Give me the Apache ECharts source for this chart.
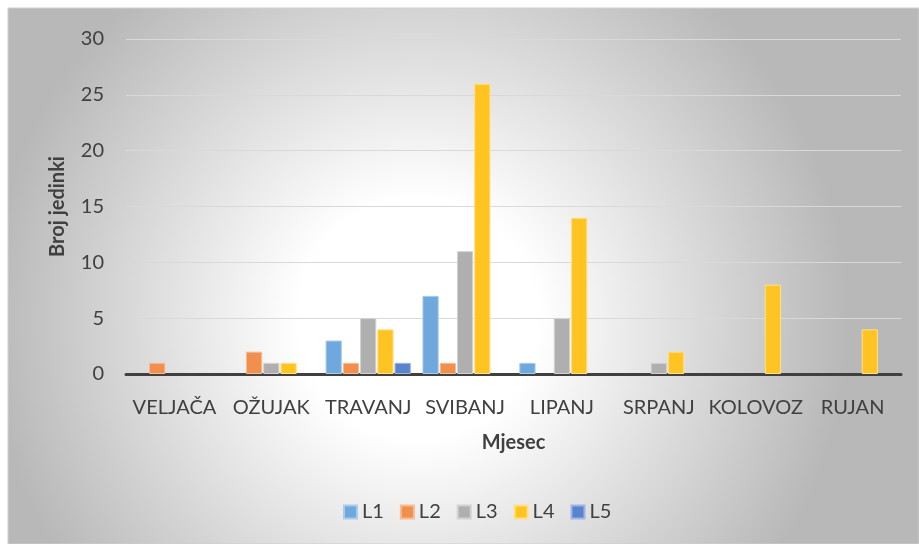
<!DOCTYPE html>
<html>
<head>
<meta charset="utf-8">
<script src="https://cdn.jsdelivr.net/npm/echarts@6/dist/echarts.min.js"></script>
<style>
html,body{margin:0;padding:0;background:#fff;}
#c{width:919px;height:544px;}
</style>
</head>
<body>
<div id="c"></div>
<script>
var categories = ['VELJAČA','OŽUJAK','TRAVANJ','SVIBANJ','LIPANJ','SRPANJ','KOLOVOZ','RUJAN'];
var L1 = [0,0,3,7,1,0,0,0];
var L2 = [1,2,1,1,0,0,0,0];
var L3 = [0,1,5,11,5,1,0,0];
var L4 = [0,1,4,26,14,2,8,4];
var L5 = [0,0,1,0,0,0,0,0];
var seriesNames = ['L1','L2','L3','L4','L5'];
var yTicks = [0,5,10,15,20,25,30];

var colors = ['#6FA8DC','#F08F4E','#AFAFAF','#FFC421','#5A83CD'];
var borders = ['#A9CCEB','#F6BC94','#D2D2D2','#FFE08A','#9DB5E3'];
var dataSets = [L1,L2,L3,L4,L5];
var font = 'Lato, "Open Sans", sans-serif';

var chart = echarts.init(document.getElementById('c'));
var series = seriesNames.map(function(n,i){
  return {
    name:n, type:'bar',
    data:dataSets[i].map(function(v){ return v === 0 ? {value:0, itemStyle:{borderWidth:0}} : v; }),
    barGap:'6%', barCategoryGap:'12%',
    itemStyle:{color:colors[i], borderColor:borders[i], borderWidth:1},
    emphasis:{disabled:true}
  };
});
chart.setOption({
  animation:false,
  textStyle:{fontFamily:font},
  graphic:[{
    type:'rect', z:-10, silent:true,
    shape:{x:8,y:8,width:911,height:536},
    style:{
      fill:{type:'radial', x:0.45, y:0.58, r:0.8, colorStops:[
        {offset:0,color:'#ffffff'},{offset:0.28,color:'#ffffff'},{offset:1,color:'#b8b8b8'}]},
      stroke:'#cfcfcf', lineWidth:1
    }
  }],
  grid:{left:126,right:18,top:39,bottom:170,containLabel:false},
  legend:{
    data:seriesNames, bottom:17, left:338,
    itemWidth:13, itemHeight:13, itemGap:16,
    icon:'rect',
    textStyle:{fontSize:20,color:'#404040',fontFamily:font}
  },
  xAxis:{
    type:'category', data:categories,
    name:'Mjesec', nameLocation:'middle', nameGap:59,
    nameTextStyle:{fontSize:20,fontWeight:'bold',color:'#404040',fontFamily:font},
    axisLine:{lineStyle:{color:'#404040',width:3}},
    axisTick:{show:false},
    axisLabel:{fontSize:20,color:'#404040',margin:24,fontFamily:font,interval:0}
  },
  yAxis:{
    type:'value', min:yTicks[0], max:yTicks[yTicks.length-1], interval:5,
    name:'Broj jedinki', nameLocation:'middle', nameGap:58,
    nameTextStyle:{fontSize:20,fontWeight:'bold',color:'#404040',fontFamily:font},
    axisLine:{show:false}, axisTick:{show:false},
    axisLabel:{fontSize:20,color:'#404040',margin:22,fontFamily:font},
    splitLine:{lineStyle:{color:'#d9d9d9',width:1}}
  },
  series:series
});
</script>
</body>
</html>
